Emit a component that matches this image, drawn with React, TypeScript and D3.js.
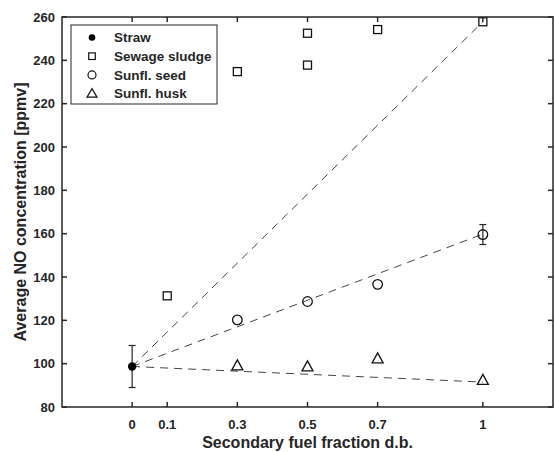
import React from "react";
import * as d3 from "d3";

const xTicks = [0, 0.1, 0.3, 0.5, 0.7, 1];
const yTicks = [80, 100, 120, 140, 160, 180, 200, 220, 240, 260];

const strawX = [0];
const strawY = [98.7];
const strawErr = [9.7];

const sludgeX = [0.1, 0.3, 0.5, 0.5, 0.7, 1];
const sludgeY = [131.3, 234.8, 252.5, 237.8, 254.2, 257.8];

const seedX = [0.3, 0.5, 0.7, 1];
const seedY = [120.2, 128.7, 136.6, 159.6];
const seedErr = [0, 0, 0, 4.6];

const huskX = [0.3, 0.5, 0.7, 1];
const huskY = [99.0, 98.5, 102.2, 92.3];

const trendEnds = [257.8, 159.8, 91.5];
const legendLabels = ["Straw", "Sewage sludge", "Sunfl. seed", "Sunfl. husk"];

const W = 555, H = 452;
const M = { left: 62, right: 553, top: 17, bottom: 407 };
const font = "'Liberation Sans', Arial, sans-serif";
const ink = "#262626";

const x = d3.scaleLinear().domain([-0.2, 1.2]).range([M.left, M.right]);
const y = d3.scaleLinear().domain([80, 260]).range([M.bottom, M.top]);

function Square({ cx, cy }: { cx: number; cy: number }) {
  return <rect x={cx - 4} y={cy - 4} width={8} height={8} fill="none" stroke="#111" strokeWidth={1.3} />;
}
function Circle({ cx, cy }: { cx: number; cy: number }) {
  return <circle cx={cx} cy={cy} r={4.8} fill="none" stroke="#111" strokeWidth={1.3} />;
}
function Tri({ cx, cy }: { cx: number; cy: number }) {
  const p = [[cx, cy - 6], [cx + 5.5, cy + 4], [cx - 5.5, cy + 4]];
  return <polygon points={p.map((q) => q.join(",")).join(" ")} fill="none" stroke="#111" strokeWidth={1.3} />;
}
function Dot({ cx, cy }: { cx: number; cy: number }) {
  return <circle cx={cx} cy={cy} r={4.2} fill="#000" />;
}

function ErrBar({ cx, v, e }: { cx: number; v: number; e: number }) {
  if (!e) return null;
  const y1 = y(v + e), y2 = y(v - e);
  return (
    <g stroke={ink} strokeWidth={1.2}>
      <line x1={cx} x2={cx} y1={y1} y2={y2} />
      <line x1={cx - 3.5} x2={cx + 3.5} y1={y1} y2={y1} />
      <line x1={cx - 3.5} x2={cx + 3.5} y1={y2} y2={y2} />
    </g>
  );
}

export default function App() {
  const line = d3.line<[number, number]>().x((d) => x(d[0])).y((d) => y(d[1]));
  const tickLen = 5;
  return (
    <svg width={W} height={H} style={{ position: "absolute", left: 0, top: 0 }} fontFamily={font}>
      <rect width={W} height={H} fill="#fff" />
      {trendEnds.map((e, i) => (
        <path key={i} d={line([[0, strawY[0]], [1, e]]) || ""} fill="none" stroke="#444" strokeWidth={1} strokeDasharray="8,6" />
      ))}
      {strawX.map((v, i) => <ErrBar key={"se" + i} cx={x(v)} v={strawY[i]} e={strawErr[i]} />)}
      {seedX.map((v, i) => <ErrBar key={"de" + i} cx={x(v)} v={seedY[i]} e={seedErr[i]} />)}
      {sludgeX.map((v, i) => <Square key={"s" + i} cx={x(v)} cy={y(sludgeY[i])} />)}
      {seedX.map((v, i) => <Circle key={"c" + i} cx={x(v)} cy={y(seedY[i])} />)}
      {huskX.map((v, i) => <Tri key={"t" + i} cx={x(v)} cy={y(huskY[i])} />)}
      {strawX.map((v, i) => <Dot key={"d" + i} cx={x(v)} cy={y(strawY[i])} />)}
      <rect x={M.left} y={M.top} width={M.right - M.left} height={M.bottom - M.top} fill="none" stroke={ink} strokeWidth={1.5} />
      {xTicks.map((t) => (
        <g key={"xt" + t}>
          <line x1={x(t)} x2={x(t)} y1={M.bottom} y2={M.bottom - tickLen} stroke={ink} strokeWidth={1.5} />
          <line x1={x(t)} x2={x(t)} y1={M.top} y2={M.top + tickLen} stroke={ink} strokeWidth={1.5} />
          <text x={x(t)} y={429} textAnchor="middle" fontSize={13} fontWeight="bold" fill={ink}>{t}</text>
        </g>
      ))}
      {yTicks.map((t) => (
        <g key={"yt" + t}>
          <line x1={M.left} x2={M.left + tickLen} y1={y(t)} y2={y(t)} stroke={ink} strokeWidth={1.5} />
          <line x1={M.right} x2={M.right - tickLen} y1={y(t)} y2={y(t)} stroke={ink} strokeWidth={1.5} />
          <text x={55} y={y(t) + 4.6} textAnchor="end" fontSize={13} fontWeight="bold" fill={ink}>{t}</text>
        </g>
      ))}
      <text x={(M.left + M.right) / 2} y={448} textAnchor="middle" fontSize={16} fontWeight="bold" fill={ink}>Secondary fuel fraction d.b.</text>
      <text transform={`translate(26,${(M.top + M.bottom) / 2}) rotate(-90)`} textAnchor="middle" fontSize={16} fontWeight="bold" fill={ink}>Average NO concentration [ppmv]</text>
      <rect x={71} y={25} width={146} height={79} fill="#fff" stroke={ink} strokeWidth={1} />
      {legendLabels.map((lab, i) => {
        const cy = 37.5 + i * 18.7;
        const cx = 92;
        return (
          <g key={lab}>
            {i === 0 && <circle cx={cx} cy={cy} r={3.3} fill="#000" />}
            {i === 1 && <rect x={cx - 3.3} y={cy - 3.3} width={6.6} height={6.6} fill="none" stroke="#111" strokeWidth={1.2} />}
            {i === 2 && <circle cx={cx} cy={cy} r={4} fill="none" stroke="#111" strokeWidth={1.2} />}
            {i === 3 && <polygon points={`${cx},${cy - 5} ${cx + 5},${cy + 3.5} ${cx - 5},${cy + 3.5}`} fill="none" stroke="#111" strokeWidth={1.2} />}
            <text x={114} y={cy + 4.6} fontSize={13.5} fontWeight="bold" fill={ink}>{lab}</text>
          </g>
        );
      })}
    </svg>
  );
}
